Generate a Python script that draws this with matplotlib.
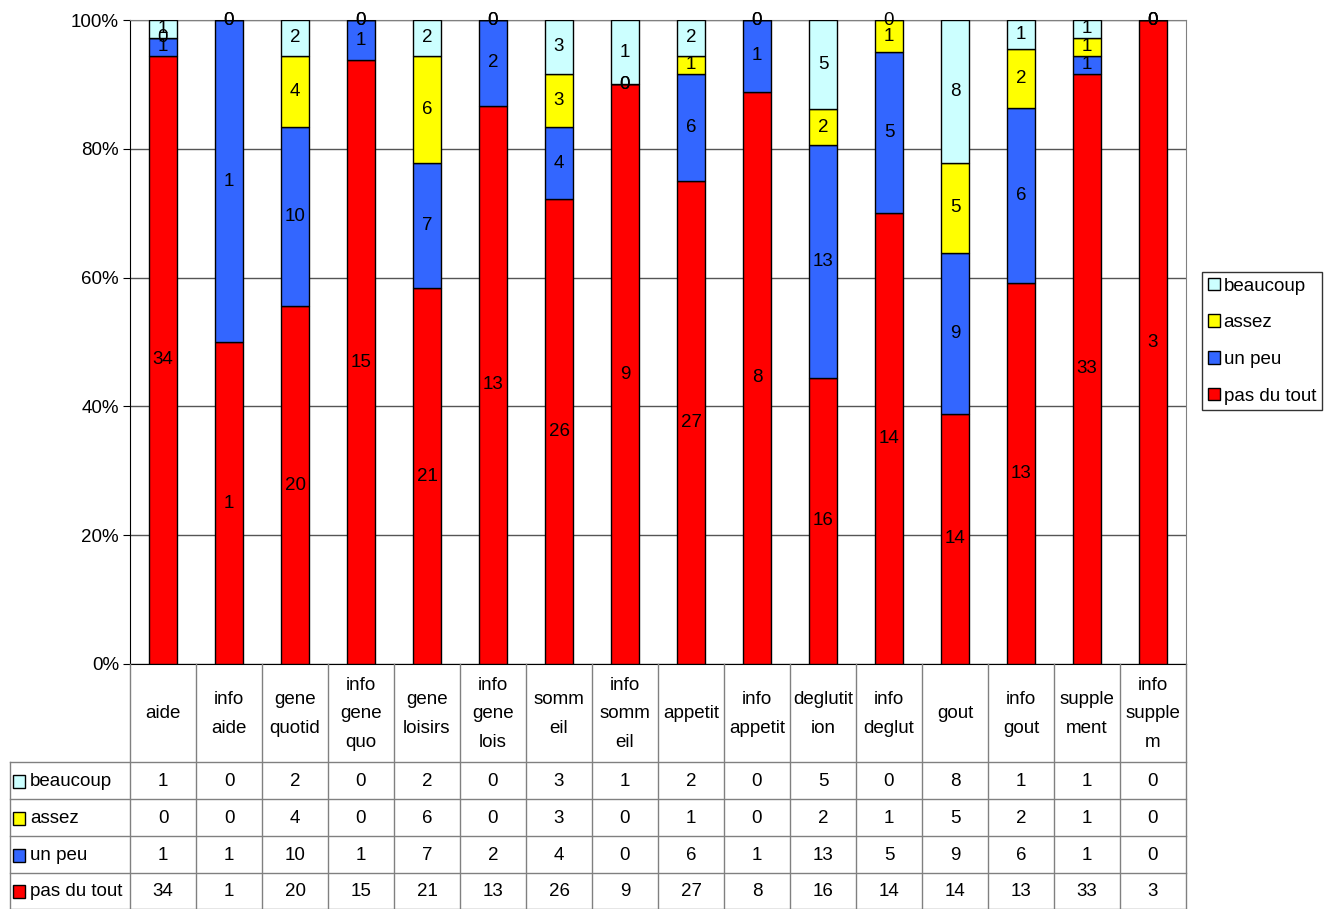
import matplotlib.pyplot as plt
import matplotlib.patches as mpatches
import numpy as np

plt.rcParams['font.family'] = ['Liberation Sans', 'DejaVu Sans']

categories = ["aide", "info\naide", "gene\nquotid", "info\ngene\nquo", "gene\nloisirs",
              "info\ngene\nlois", "somm\neil", "info\nsomm\neil", "appetit", "info\nappetit",
              "deglutit\nion", "info\ndeglut", "gout", "info\ngout", "supple\nment",
              "info\nsupple\nm"]
pas_du_tout = [34, 1, 20, 15, 21, 13, 26, 9, 27, 8, 16, 14, 14, 13, 33, 3]
un_peu = [1, 1, 10, 1, 7, 2, 4, 0, 6, 1, 13, 5, 9, 6, 1, 0]
assez = [0, 0, 4, 0, 6, 0, 3, 0, 1, 0, 2, 1, 5, 2, 1, 0]
beaucoup = [1, 0, 2, 0, 2, 0, 3, 1, 2, 0, 5, 0, 8, 1, 1, 0]

series = [("pas du tout", pas_du_tout, "#FF0000"),
          ("un peu", un_peu, "#3366FF"),
          ("assez", assez, "#FFFF00"),
          ("beaucoup", beaucoup, "#CCFFFF")]

FS = 13.5
W, H = 1336, 909
fig = plt.figure(figsize=(W / 100, H / 100), dpi=100)

px_left, px_right, px_top, px_bot = 130, 1186, 20, 664
ax = fig.add_axes([px_left / W, 1 - px_bot / H, (px_right - px_left) / W, (px_bot - px_top) / H])

n = len(categories)
x = np.arange(n)
totals = np.sum([s[1] for s in series], axis=0)
bottom = np.zeros(n)
handles = []
for name, vals, col in series:
    vals = np.array(vals, dtype=float)
    pct = vals / totals * 100
    b = ax.bar(x, pct, 0.42, bottom=bottom, color=col, edgecolor="black", linewidth=1, label=name, zorder=3)
    handles.append(b)
    for i in range(n):
        ax.text(x[i], bottom[i] + pct[i] / 2, "%d" % vals[i], ha="center", va="center",
                fontsize=FS, zorder=4)
    bottom += pct

ax.set_xlim(-0.5, n - 0.5)
ax.set_ylim(0, 100)
ax.set_yticks(range(0, 101, 20))
ax.set_yticklabels(["%d%%" % v for v in range(0, 101, 20)], fontsize=FS)
ax.set_xticks([])
ax.yaxis.grid(True, color="#555555", linewidth=1, zorder=0)
ax.tick_params(axis="y", length=5, color="black", pad=3)
for side in ["top", "right"]:
    ax.spines[side].set_color("#808080")
ax.spines["left"].set_color("black")
ax.spines["bottom"].set_color("black")

leg = ax.legend(handles[::-1], [s[0] for s in series][::-1], loc="upper left",
                bbox_to_anchor=(1202 / W, 1 - 272 / H), bbox_transform=fig.transFigure,
                frameon=True, fancybox=False, edgecolor="black", fontsize=FS,
                handlelength=0.65, handleheight=0.65, handletextpad=0.2, borderpad=0.3,
                labelspacing=1.05, borderaxespad=0)
leg.get_frame().set_linewidth(1)

# data table below the chart
col_w = (px_right - px_left) / n
lab_left = 10
tax = fig.add_axes([lab_left / W, 0, (px_right - lab_left) / W, 1 - px_bot / H])
tax.set_xlim(-0.5 - (px_left - lab_left) / col_w, n - 0.5)
tax.set_ylim(H - px_bot, 0)
tax.axis("off")

row_tops = [0, 98, 135, 172, 209, 245]
line_kw = dict(color="#808080", linewidth=1, clip_on=False)
for yy in row_tops[1:]:
    tax.plot([tax.get_xlim()[0], n - 0.5], [yy, yy], **line_kw)
for j in range(n + 1):
    tax.plot([j - 0.5, j - 0.5], [0, row_tops[-1]], **line_kw)
tax.plot([tax.get_xlim()[0]] * 2, [row_tops[1], row_tops[-1]], **line_kw)

for i, c in enumerate(categories):
    tax.text(i, row_tops[1] / 2 + 1, c, ha="center", va="center", fontsize=FS, linespacing=1.85)

table_rows = series[::-1]
x0 = tax.get_xlim()[0]
for r, (name, vals, col) in enumerate(table_rows):
    yc = (row_tops[r + 1] + row_tops[r + 2]) / 2
    tax.add_patch(mpatches.Rectangle((x0 + 0.05, yc - 6), 12 / col_w, 13, facecolor=col,
                                     edgecolor="black", linewidth=1, clip_on=False))
    tax.text(x0 + 20 / col_w, yc + 1, name, ha="left", va="center", fontsize=FS)
    for i in range(n):
        tax.text(i, yc + 1, "%d" % vals[i], ha="center", va="center", fontsize=FS)

fig.savefig("out.png", dpi=100)
